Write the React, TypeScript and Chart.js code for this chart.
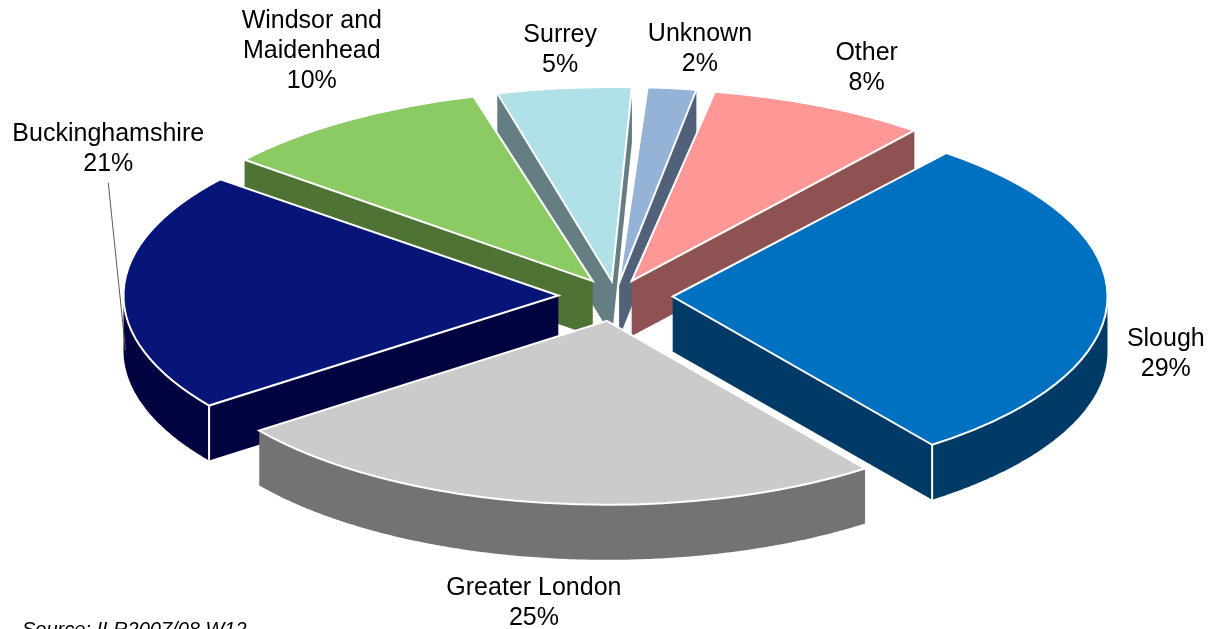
import React, { useEffect, useRef } from 'react';
import { Chart, registerables } from 'chart.js';

Chart.register(...registerables);

// ---- data ----
const categories = ['Slough', 'Greater London', 'Buckinghamshire', 'Windsor and Maidenhead', 'Surrey', 'Unknown', 'Other'];
const shares = [29, 25, 21, 10, 5, 2, 8];
const sourceNote = 'Source: ILR2007/08 W12';

// ---- styles ----
const topColors = ['#0070C0', '#CBCBCB', '#061577', '#8CCA64', '#B0E1E8', '#95B3D7', '#FF9797'];
const sideColors = ['#003A66', '#737373', '#00033F', '#4E7335', '#647E82', '#506179', '#8F5252'];
const labelNudge: [number, number][] = [
  [-0.5, 50],
  [6, 6],
  [100.5, -144],
  [13.4, -27],
  [2, -2],
  [19.6, -3],
  [25, -5],
];

const ROTATION = 39;
const RADIUS = 433;
const EXPLODE = 59;
const TILT = 0.425;
const CENTER_Y = 296;
const DEPTH = 55;
const LABEL_GAP = 20;
const FONT = '25px "Liberation Sans", Arial, sans-serif';
const LINE_H = 30;

const total = shares.reduce((a, b) => a + b, 0);

type Pt = [number, number];

// mirrors the geometry Chart.js uses to paint an exploded pie arc
function arcGeom(arc: any) {
  const p = arc.getProps(['x', 'y', 'startAngle', 'endAngle', 'outerRadius', 'circumference'], true);
  const off = (arc.options.offset || 0) / 4;
  const fix = 1 - Math.sin(Math.min(Math.PI, p.circumference || 0));
  const radOff = off * fix;
  const mid = (p.startAngle + p.endAngle) / 2;
  const r = Math.max(p.outerRadius + radOff, 0);
  const alpha = p.endAngle - p.startAngle;
  const beta = Math.max(0.001, alpha * r - radOff / Math.PI) / r;
  const ao = (alpha - beta) / 2;
  return {
    x: p.x as number,
    y: p.y as number,
    R: p.outerRadius as number,
    cx: p.x + Math.cos(mid) * off,
    cy: p.y + Math.sin(mid) * off,
    r,
    start: p.startAngle + ao,
    end: p.endAngle - ao,
    mid,
  };
}

function hull(points: Pt[]): Pt[] {
  const pts = points.slice().sort((a, b) => a[0] - b[0] || a[1] - b[1]);
  const cross = (o: Pt, a: Pt, b: Pt) => (a[0] - o[0]) * (b[1] - o[1]) - (a[1] - o[1]) * (b[0] - o[0]);
  const lower: Pt[] = [];
  const upper: Pt[] = [];
  for (const p of pts) {
    while (lower.length >= 2 && cross(lower[lower.length - 2], lower[lower.length - 1], p) <= 0) lower.pop();
    lower.push(p);
  }
  for (let i = pts.length - 1; i >= 0; i--) {
    const p = pts[i];
    while (upper.length >= 2 && cross(upper[upper.length - 2], upper[upper.length - 1], p) <= 0) upper.pop();
    upper.push(p);
  }
  upper.pop();
  lower.pop();
  return lower.concat(upper);
}

function wrapText(ctx: CanvasRenderingContext2D, text: string, maxW: number): string[] {
  const words = text.split(' ');
  const lines: string[] = [];
  let cur = '';
  for (const w of words) {
    const test = cur ? cur + ' ' + w : w;
    if (cur && ctx.measureText(test).width > maxW) {
      lines.push(cur);
      cur = w;
    } else {
      cur = test;
    }
  }
  if (cur) lines.push(cur);
  return lines;
}

const pie3d = {
  id: 'pie3d',
  beforeDatasetsDraw(chart: any) {
    const ctx: CanvasRenderingContext2D = chart.ctx;
    const arcs = chart.getDatasetMeta(0).data;
    const y0 = arcs[0].y;
    const sy = (y: number) => CENTER_Y + (y - y0) * TILT;

    // side walls, painted back to front
    const order = arcs
      .map((arc: any, i: number) => ({ i, g: arcGeom(arc) }))
      .sort((a: any, b: any) => Math.sin(a.g.mid) - Math.sin(b.g.mid));
    order.forEach(({ i, g }: any) => {
      const pts: Pt[] = [];
      const top: Pt[] = [[g.cx, sy(g.cy)]];
      const n = Math.max(8, Math.ceil(((g.end - g.start) * 180) / Math.PI) * 2);
      for (let k = 0; k <= n; k++) {
        const a = g.start + ((g.end - g.start) * k) / n;
        top.push([g.cx + g.r * Math.cos(a), sy(g.cy + g.r * Math.sin(a))]);
      }
      top.forEach((p) => {
        pts.push(p);
        pts.push([p[0], p[1] + DEPTH]);
      });
      const h = hull(pts);
      ctx.save();
      ctx.fillStyle = sideColors[i];
      ctx.beginPath();
      h.forEach((p, k) => (k ? ctx.lineTo(p[0], p[1]) : ctx.moveTo(p[0], p[1])));
      ctx.closePath();
      ctx.fill();
      ctx.restore();
    });

    // white vertical edges at visible outer corners
    ctx.save();
    ctx.strokeStyle = '#ffffff';
    ctx.lineWidth = 2;
    arcs.forEach((arc: any) => {
      const g = arcGeom(arc);
      const corners: number[] = [];
      if (Math.sin(g.start) > 0 && -Math.cos(g.start) > 0) corners.push(g.start);
      if (Math.sin(g.end) > 0 && Math.cos(g.end) > 0) corners.push(g.end);
      corners.forEach((a) => {
        const px = g.cx + g.r * Math.cos(a);
        const py = sy(g.cy + g.r * Math.sin(a));
        ctx.beginPath();
        ctx.moveTo(px, py);
        ctx.lineTo(px, py + DEPTH);
        ctx.stroke();
      });
    });
    ctx.restore();

    // top faces are drawn by Chart.js inside this squashed transform
    ctx.save();
    ctx.translate(0, CENTER_Y);
    ctx.scale(1, TILT);
    ctx.translate(0, -y0);
  },
  afterDatasetsDraw(chart: any) {
    const ctx: CanvasRenderingContext2D = chart.ctx;
    ctx.restore();
    const arcs = chart.getDatasetMeta(0).data;
    const y0 = arcs[0].y;

    // white outlines of the top faces (stroked unsquashed for an even width)
    ctx.save();
    ctx.strokeStyle = '#ffffff';
    ctx.lineWidth = 2;
    arcs.forEach((arc: any) => {
      const g = arcGeom(arc);
      ctx.save();
      ctx.translate(0, CENTER_Y);
      ctx.scale(1, TILT);
      ctx.translate(0, -y0);
      ctx.beginPath();
      ctx.moveTo(g.cx, g.cy);
      ctx.arc(g.cx, g.cy, g.r, g.start, g.end);
      ctx.closePath();
      ctx.restore();
      ctx.stroke();
    });
    ctx.restore();

    // labels
    ctx.save();
    ctx.font = FONT;
    ctx.fillStyle = '#000000';
    ctx.textAlign = 'center';
    ctx.textBaseline = 'alphabetic';
    arcs.forEach((arc: any, i: number) => {
      const g = arcGeom(arc);
      const lines = wrapText(ctx, categories[i], 200);
      lines.push(Math.round((shares[i] / total) * 100) + '%');
      const w = Math.max(...lines.map((l) => ctx.measureText(l).width));
      const h = lines.length * LINE_H;
      const rho = EXPLODE + g.R + LABEL_GAP;
      const cosM = Math.cos(g.mid);
      const sinM = Math.sin(g.mid);
      const ax = g.x + rho * cosM;
      let ay = CENTER_Y + rho * sinM * TILT;
      if (sinM > 0) ay += DEPTH * sinM;
      const [nx, ny] = labelNudge[i];
      const bx = ax + (cosM * w) / 2 + nx;
      const by = ay + (sinM * h) / 2 + ny;
      lines.forEach((l, j) => {
        const lc = by - h / 2 + LINE_H / 2 + j * LINE_H;
        ctx.fillText(l, bx, lc + 9);
      });
      if (Math.hypot(nx, ny) > 60) {
        const ex = g.cx + g.r * cosM;
        const ey = CENTER_Y + (g.cy + g.r * sinM - y0) * TILT + DEPTH;
        ctx.save();
        ctx.strokeStyle = '#595959';
        ctx.lineWidth = 1;
        ctx.beginPath();
        ctx.moveTo(bx, by + h / 2 + 6);
        ctx.lineTo(ex + 2, ey + 4);
        ctx.stroke();
        ctx.restore();
      }
    });
    ctx.restore();
  },
  afterDraw(chart: any) {
    const ctx: CanvasRenderingContext2D = chart.ctx;
    ctx.save();
    ctx.font = 'italic 20px "Liberation Sans", Arial, sans-serif';
    ctx.fillStyle = '#000000';
    ctx.textAlign = 'left';
    ctx.textBaseline = 'alphabetic';
    ctx.fillText(sourceNote, 22, 636);
    ctx.restore();
  },
};

export default function App() {
  const canvasRef = useRef<HTMLCanvasElement | null>(null);
  useEffect(() => {
    document.body.style.margin = '0';
    const canvas = canvasRef.current;
    if (!canvas) return;
    const chart = new Chart(canvas, {
      type: 'pie',
      data: {
        labels: categories,
        datasets: [
          {
            data: shares,
            backgroundColor: topColors,
            borderWidth: 0,
            radius: RADIUS,
            offset: (c: any) => {
              if (c.type !== 'data') return 0;
              const circ = (c.raw / total) * 2 * Math.PI;
              return (4 * EXPLODE) / (2 - Math.sin(Math.min(Math.PI, circ)));
            },
          } as any,
        ],
      },
      options: {
        responsive: false,
        animation: false,
        events: [],
        rotation: ROTATION,
        layout: { padding: { left: 13 } },
        plugins: {
          legend: { display: false },
          tooltip: { enabled: false },
        },
      } as any,
      plugins: [pie3d as any],
    });
    return () => chart.destroy();
  }, []);
  return (
    <div style={{ width: 1218, height: 629, background: '#ffffff' }}>
      <canvas ref={canvasRef} width={1218} height={629} style={{ display: 'block' }} />
    </div>
  );
}
